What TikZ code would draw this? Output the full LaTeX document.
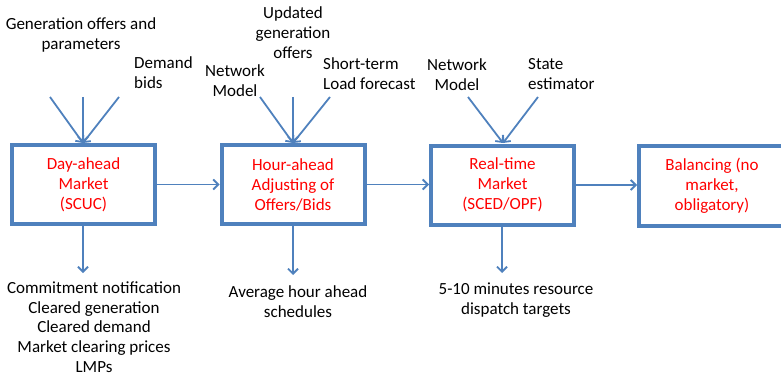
\documentclass[tikz,border=0pt]{standalone}
\usepackage{fontspec}
\setmainfont{Carlito}
\usetikzlibrary{arrows.meta}
\definecolor{boxblue}{HTML}{4F81BD}
\definecolor{txtred}{HTML}{FF0000}
\begin{document}
\begin{tikzpicture}[x=1pt,y=-1pt,
  mbox/.style={draw=boxblue,line width=4pt,fill=white,minimum width=143pt,minimum height=79pt,
    align=center,text=txtred,font=\fontsize{17}{20}\selectfont,inner sep=0pt},
  lbl/.style={font=\fontsize{17}{20}\selectfont,inner sep=0pt,text=black},
  conn/.style={draw=boxblue,line width=1.8pt,-{Straight Barb[length=5pt,width=10pt,line width=1.8pt]}}]
\useasboundingbox (0,0) rectangle (781,377);
% boxes
\node[mbox] (b1) at (83.5,184.5) {Day-ahead\\Market\\(SCUC)};
\node[mbox] (b2) at (293,184.5) {Hour-ahead\\Adjusting of\\Offers/Bids};
\node[mbox] (b3) at (502.5,185) {Real-time\\Market\\(SCED/OPF)};
\node[mbox,minimum width=146pt,minimum height=80pt] (b4) at (712,186) {Balancing (no\\market,\\obligatory)};
% input labels
\node[lbl,align=center] (t1) at (81,35) {Generation offers and\\parameters};
\node[lbl,align=left,anchor=west] (t2) at (134,73) {Demand\\bids};
\node[lbl,align=center] (t3) at (235,81) {Network\\Model};
\node[lbl,align=center] (t4) at (293,33) {Updated\\generation\\offers};
\node[lbl,align=left,anchor=west] (t5) at (323,74) {Short-term\\Load forecast};
\node[lbl,align=center] (t6) at (457,75) {Network\\Model};
\node[lbl,align=left,anchor=west] (t7) at (528,74) {State\\estimator};
% output labels
\node[lbl,align=center,font=\fontsize{17}{19.6}\selectfont] (o1) at (94,327) {Commitment notification\\Cleared generation\\Cleared demand\\Market clearing prices\\LMPs};
\node[lbl,align=center] (o2) at (298,302) {Average hour ahead\\schedules};
\node[lbl,align=center] (o3) at (516,300) {5-10 minutes resource\\dispatch targets};
% free ends
\coordinate (s1a) at (50,97);
\coordinate (s1b) at (83,97);
\coordinate (s1c) at (119,97);
\coordinate (s2a) at (260,97);
\coordinate (s2b) at (293,97);
\coordinate (s2c) at (330,97);
\coordinate (s3a) at (468,97);
\coordinate (s3b) at (538,97);
\coordinate (e1) at (83,143);
\coordinate (e2) at (293,143);
\coordinate (e3) at (503,143);
\coordinate (d1) at (83,273);
\coordinate (d2) at (293,275);
\coordinate (d3) at (502,273);
% arrows in
\draw[conn] (s1a) -- (e1);
\draw[conn] (s1b) -- (e1);
\draw[conn] (s1c) -- (e1);
\draw[conn] (s2a) -- (e2);
\draw[conn] (s2b) -- (e2);
\draw[conn] (s2c) -- (e2);
\draw[conn] (s3a) -- (e3);
\draw[conn] (s3b) -- (e3);
% horizontal arrows
\draw[conn] (b1.east) -- (b2.west);
\draw[conn] (b2.east) -- (b3.west |- b2.east);
\draw[conn] (b3.east) -- (b4.west |- b3.east);
% down arrows
\draw[conn] (b1.south -| d1) -- (d1);
\draw[conn] (b2.south -| d2) -- (d2);
\draw[conn] (b3.south -| d3) -- (d3);
\end{tikzpicture}
\end{document}
